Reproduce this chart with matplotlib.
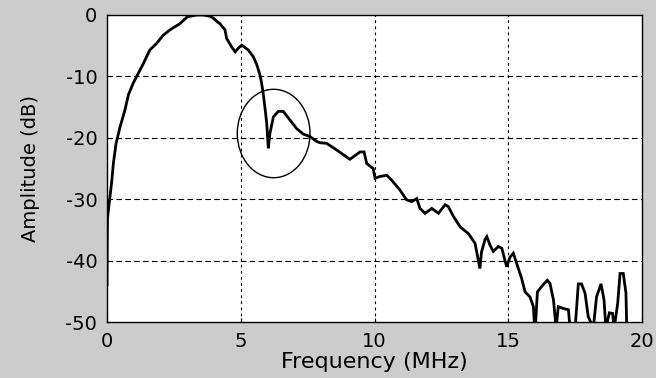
import matplotlib
matplotlib.use("Agg")
import matplotlib.pyplot as plt
from matplotlib.patches import Ellipse

# spectrum magnitude
freq_mhz = [
    0.00, 0.01, 0.02, 0.10, 0.17, 0.24, 0.34, 0.49, 0.67, 0.80,
    0.98, 1.17, 1.36, 1.60, 1.86, 2.10, 2.36, 2.73, 3.00, 3.35,
    3.60, 3.85, 3.97, 4.15, 4.22, 4.41, 4.47, 4.66, 4.79, 4.91,
    5.04, 5.28, 5.47, 5.60, 5.72, 5.78, 5.84, 5.90, 5.97, 6.03,
    6.09, 6.22, 6.40, 6.59, 6.84, 7.09, 7.34, 7.59, 7.84, 7.96,
    8.21, 8.59, 9.08, 9.46, 9.61, 9.71, 9.95, 10.02, 10.20, 10.46,
    10.64, 10.95, 11.20, 11.39, 11.58, 11.70, 11.89, 12.14, 12.39, 12.64,
    12.76, 12.95, 13.20, 13.51, 13.76, 13.94, 14.00, 14.13, 14.20, 14.32,
    14.44, 14.63, 14.76, 14.94, 15.07, 15.19, 15.31, 15.50, 15.63, 15.81,
    15.94, 16.00, 16.09, 16.25, 16.46, 16.56, 16.69, 16.79, 16.87, 17.06,
    17.25, 17.31, 17.50, 17.62, 17.74, 17.87, 17.99, 18.18, 18.30, 18.47,
    18.58, 18.65, 18.78, 18.90, 18.96, 19.09, 19.18, 19.30, 19.40, 19.43,
]
amp_db = [
    -44.0, -36.0, -33.0, -30.0, -27.4, -24.1, -20.9, -18.2, -15.5, -13.0,
    -11.1, -9.5, -7.9, -5.7, -4.6, -3.3, -2.4, -1.4, -0.3, 0.0,
    0.0, -0.2, -0.5, -1.2, -1.4, -2.4, -3.8, -5.2, -6.0, -5.4,
    -4.9, -5.7, -6.8, -8.1, -9.8, -11.1, -12.8, -14.9, -17.6, -21.7,
    -19.3, -16.6, -15.7, -15.7, -17.1, -18.5, -19.4, -19.8, -20.6, -20.8,
    -20.9, -22.0, -23.5, -22.3, -22.3, -24.2, -25.0, -26.6, -26.3, -26.1,
    -26.9, -28.5, -30.1, -30.4, -29.9, -31.5, -32.3, -31.5, -32.3, -30.9,
    -31.2, -32.8, -34.5, -35.6, -37.2, -41.3, -38.6, -36.6, -36.1, -37.5,
    -38.5, -37.7, -38.0, -41.0, -39.4, -38.8, -40.4, -42.9, -45.1, -45.9,
    -47.5, -52.0, -45.1, -44.2, -43.2, -43.7, -46.4, -51.0, -47.5, -47.8,
    -48.0, -51.0, -51.0, -43.8, -43.8, -45.3, -49.1, -51.0, -45.9, -43.8,
    -46.4, -51.0, -48.5, -48.6, -51.0, -47.0, -42.1, -42.1, -45.3, -51.0,
]

x_ticks = [0, 5, 10, 15, 20]
y_ticks = [0, -10, -20, -30, -40, -50]

# highlighted notch region: centre (MHz, dB) and extent
notch_center = (6.23, -19.3)
notch_width = 2.72
notch_height = 14.4

plt.rcParams["font.family"] = ["DejaVu Sans"]
plt.rcParams["axes.unicode_minus"] = False

fig = plt.figure(figsize=(6.56, 3.78), dpi=100, facecolor="#cccccc")
ax = fig.add_axes([107 / 656, 1 - 322 / 378, 535 / 656, 307 / 378])
ax.set_facecolor("white")

ax.plot(freq_mhz, amp_db, color="black", linewidth=2.0, solid_joinstyle="miter")

ax.add_patch(Ellipse(notch_center, notch_width, notch_height,
                     fill=False, edgecolor="black", linewidth=1.0))

ax.set_xlim(0, 20)
ax.set_ylim(-50, 0)
ax.set_xticks(x_ticks)
ax.set_yticks(y_ticks)

# dashed horizontal grid, dotted vertical grid
for y in y_ticks[1:-1]:
    ax.axhline(y, color="black", linewidth=0.8, dashes=(5, 3), zorder=0.5)
for x in x_ticks[1:-1]:
    ax.axvline(x, color="black", linewidth=0.8, dashes=(2.5, 3), zorder=0.5)

ax.tick_params(direction="in", length=3, width=0.8, labelsize=14, pad=7,
               colors="black")
for spine in ax.spines.values():
    spine.set_linewidth(1.0)
    spine.set_color("black")

ax.set_xlabel("Frequency (MHz)", fontsize=16, labelpad=1)
ax.set_ylabel("Amplitude (dB)", fontsize=14, labelpad=18)

fig.savefig("out.png", dpi=100, facecolor=fig.get_facecolor())
